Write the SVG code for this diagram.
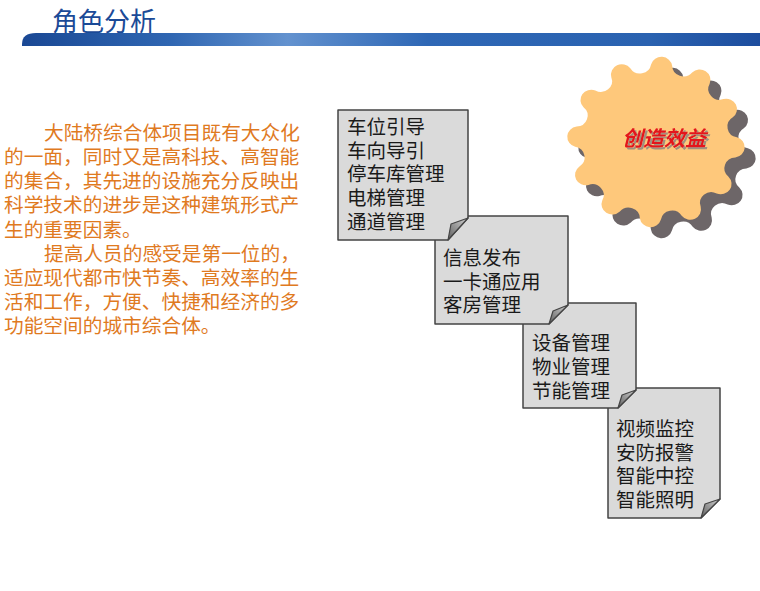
<svg xmlns="http://www.w3.org/2000/svg" width="760" height="591" viewBox="0 0 760 591">
<defs>
<style>
.title{font-family:"Noto Sans CJK SC","Noto Sans",sans-serif;font-size:26px;fill:#1b4a97}
.body{font-family:"Noto Sans CJK SC","Noto Sans",sans-serif;font-size:19.7px;fill:#e07a1f}
.box{fill:#dadada;stroke:#444;stroke-width:1.5;stroke-linejoin:round}
.flap{fill:url(#flapg);stroke:#444;stroke-width:1.2;stroke-linejoin:round}
.bt{font-family:"Noto Sans CJK SC","Noto Sans",sans-serif;font-size:19.5px;fill:#1a1a1a}
.star{font-family:"Noto Sans CJK SC","Noto Sans",sans-serif;font-size:21px;font-style:italic;font-weight:bold;fill:#e3141b}
</style>
<linearGradient id="barg" x1="0" y1="0" x2="1" y2="0">
<stop offset="0" stop-color="#1a4894"/>
<stop offset="0.2" stop-color="#2f66b2"/>
<stop offset="0.36" stop-color="#6392cf"/>
<stop offset="0.55" stop-color="#2e67b5"/>
<stop offset="0.85" stop-color="#2a62b0"/>
<stop offset="1" stop-color="#1d4d9e"/>
</linearGradient>
<linearGradient id="flapg" x1="0" y1="1" x2="1" y2="0">
<stop offset="0" stop-color="#5e5e5e"/>
<stop offset="1" stop-color="#d2d2d2"/>
</linearGradient>
<filter id="tshadow" x="-10%" y="-20%" width="130%" height="160%">
<feOffset in="SourceAlpha" dx="2" dy="2" result="o"/>
<feFlood flood-color="#8f8680" flood-opacity="0.85"/>
<feComposite in2="o" operator="in" result="s"/>
<feMerge><feMergeNode in="s"/><feMergeNode in="SourceGraphic"/></feMerge>
</filter>
<path id="gear" d="M-4.94,-80.85 A10.8,10.8 0 0 1 16.15,-79.37 A11.3,11.3 0 0 0 36.14,-72.49 A10.8,10.8 0 0 1 53.67,-60.67 A11.3,11.3 0 0 0 67.55,-44.70 A10.8,10.8 0 0 1 76.81,-25.70 A11.3,11.3 0 0 0 80.85,-4.94 A10.8,10.8 0 0 1 79.37,16.15 A11.3,11.3 0 0 0 72.49,36.14 A10.8,10.8 0 0 1 60.67,53.67 A11.3,11.3 0 0 0 44.70,67.55 A10.8,10.8 0 0 1 25.70,76.81 A11.3,11.3 0 0 0 4.94,80.85 A10.8,10.8 0 0 1 -16.15,79.37 A11.3,11.3 0 0 0 -36.14,72.49 A10.8,10.8 0 0 1 -53.67,60.67 A11.3,11.3 0 0 0 -67.55,44.70 A10.8,10.8 0 0 1 -76.81,25.70 A11.3,11.3 0 0 0 -80.85,4.94 A10.8,10.8 0 0 1 -79.37,-16.15 A11.3,11.3 0 0 0 -72.49,-36.14 A10.8,10.8 0 0 1 -60.67,-53.67 A11.3,11.3 0 0 0 -44.70,-67.55 A10.8,10.8 0 0 1 -25.70,-76.81 A11.3,11.3 0 0 0 -4.94,-80.85 Z"/>
</defs>
<rect width="760" height="591" fill="#ffffff"/>

<g id="header">
<text class="title" x="52" y="31">角色分析</text>
<path d="M22,46 V44 Q22,33 36,33 H760 V46 Z" fill="url(#barg)"/>
</g>

<g id="intro">
<text class="body" x="44" y="140">大陆桥综合体项目既有大众化</text>
<text class="body" x="4" y="164">的一面，同时又是高科技、高智能</text>
<text class="body" x="4" y="188">的集合，其先进的设施充分反映出</text>
<text class="body" x="4" y="212">科学技术的进步是这种建筑形式产</text>
<text class="body" x="4" y="236.5">生的重要因素。</text>
<text class="body" x="44" y="260.5">提高人员的感受是第一位的，</text>
<text class="body" x="4" y="284.5">适应现代都市快节奏、高效率的生</text>
<text class="body" x="4" y="308.5">活和工作，方便、快捷和经济的多</text>
<text class="body" x="4" y="332.5">功能空间的城市综合体。</text>
</g>

<g id="benefit">
<use href="#gear" transform="translate(667,153) scale(1,0.96)" fill="#6d6668"/>
<use href="#gear" transform="translate(656,142) scale(1,0.96)" fill="#fec87b"/>
<text class="star" x="622" y="146" filter="url(#tshadow)">创造效益</text>
</g>

<g id="connectors"></g>

<g id="box4">
<path class="box" d="M608,388 H720 V499 L701,518 H608 Z"/>
<path class="flap" d="M720,499 L705,504 L701,518 Z"/>
<text class="bt" x="616" y="436">视频监控</text>
<text class="bt" x="616" y="459.5">安防报警</text>
<text class="bt" x="616" y="483">智能中控</text>
<text class="bt" x="616" y="506.5">智能照明</text>
</g>

<g id="box3">
<path class="box" d="M523,303 H636 V390 L618,408 H523 Z"/>
<path class="flap" d="M636,390 L622,395 L618,408 Z"/>
<text class="bt" x="532" y="350">设备管理</text>
<text class="bt" x="532" y="374">物业管理</text>
<text class="bt" x="532" y="398">节能管理</text>
</g>

<g id="box2">
<path class="box" d="M435,216 H568 V305 L549,324 H435 Z"/>
<path class="flap" d="M568,305 L553,311 L549,324 Z"/>
<text class="bt" x="443" y="265">信息发布</text>
<text class="bt" x="443" y="289">一卡通应用</text>
<text class="bt" x="443" y="312">客房管理</text>
</g>

<g id="box1">
<path class="box" d="M338,110 H468 V218 L448,240 H338 Z"/>
<path class="flap" d="M468,218 L451,224 L448,240 Z"/>
<text class="bt" x="347" y="134">车位引导</text>
<text class="bt" x="347" y="157.7">车向导引</text>
<text class="bt" x="347" y="181.4">停车库管理</text>
<text class="bt" x="347" y="205.1">电梯管理</text>
<text class="bt" x="347" y="228.8">通道管理</text>
</g>
</svg>
